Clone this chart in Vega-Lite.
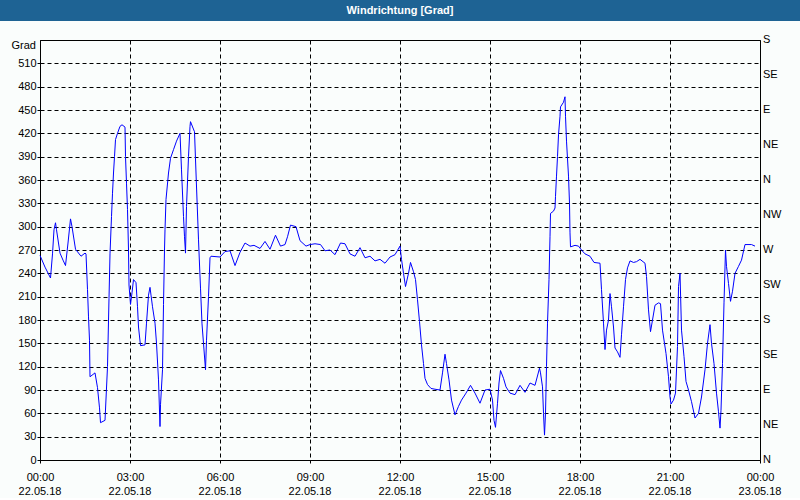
{
 "$schema": "https://vega.github.io/schema/vega-lite/v6.json",
 "padding": 0,
 "background": "#FAFDFC",
 "spacing": 19,
 "bounds": "flush",
 "center": true,
 "config": {"font": "Liberation Sans", "view": {"stroke": "black"}},
 "vconcat": [
  {
   "width": 800, "height": 21,
   "view": {"fill": "#1E6394", "stroke": null},
   "data": {"values": [{"title": "Windrichtung [Grad]"}]},
   "mark": {"type": "text", "color": "white", "fontWeight": "bold", "fontSize": 11, "font": "Liberation Sans"},
   "encoding": {"text": {"field": "title", "type": "nominal"}}
  },
  {
   "width": 720, "height": 420,
   "data": {"values": [
    {"t":"2018-05-22T00:00","v":263},{"t":"2018-05-22T00:10","v":248},{"t":"2018-05-22T00:21","v":234},{"t":"2018-05-22T00:25","v":265},{"t":"2018-05-22T00:28","v":296},{"t":"2018-05-22T00:31","v":305},{"t":"2018-05-22T00:33","v":296},{"t":"2018-05-22T00:40","v":266},{"t":"2018-05-22T00:46","v":257},{"t":"2018-05-22T00:51","v":250},{"t":"2018-05-22T00:56","v":279},
    {"t":"2018-05-22T01:01","v":310},{"t":"2018-05-22T01:04","v":300},{"t":"2018-05-22T01:11","v":271},{"t":"2018-05-22T01:22","v":262},{"t":"2018-05-22T01:30","v":266},{"t":"2018-05-22T01:32","v":265},{"t":"2018-05-22T01:35","v":219},{"t":"2018-05-22T01:37","v":184},{"t":"2018-05-22T01:39","v":154},{"t":"2018-05-22T01:40","v":107},{"t":"2018-05-22T01:50","v":112},{"t":"2018-05-22T01:55","v":93},{"t":"2018-05-22T01:59","v":67},
    {"t":"2018-05-22T02:01","v":48},{"t":"2018-05-22T02:10","v":51},{"t":"2018-05-22T02:15","v":120},{"t":"2018-05-22T02:18","v":208},{"t":"2018-05-22T02:20","v":265},{"t":"2018-05-22T02:23","v":313},{"t":"2018-05-22T02:25","v":343},{"t":"2018-05-22T02:27","v":369},{"t":"2018-05-22T02:29","v":390},{"t":"2018-05-22T02:31","v":412},{"t":"2018-05-22T02:35","v":420},{"t":"2018-05-22T02:40","v":429},{"t":"2018-05-22T02:44","v":431},{"t":"2018-05-22T02:50","v":428},{"t":"2018-05-22T02:51","v":390},{"t":"2018-05-22T02:53","v":356},{"t":"2018-05-22T02:55","v":322},{"t":"2018-05-22T02:57","v":270},{"t":"2018-05-22T02:58","v":225},
    {"t":"2018-05-22T03:01","v":200},{"t":"2018-05-22T03:04","v":215},{"t":"2018-05-22T03:07","v":232},{"t":"2018-05-22T03:12","v":228},{"t":"2018-05-22T03:15","v":197},{"t":"2018-05-22T03:17","v":171},{"t":"2018-05-22T03:21","v":147},{"t":"2018-05-22T03:30","v":148},{"t":"2018-05-22T03:33","v":176},{"t":"2018-05-22T03:37","v":212},{"t":"2018-05-22T03:40","v":222},{"t":"2018-05-22T03:42","v":212},{"t":"2018-05-22T03:45","v":197},{"t":"2018-05-22T03:50","v":176},{"t":"2018-05-22T03:53","v":150},{"t":"2018-05-22T03:57","v":103},
    {"t":"2018-05-22T04:00","v":43},{"t":"2018-05-22T04:01","v":71},{"t":"2018-05-22T04:05","v":116},{"t":"2018-05-22T04:07","v":200},{"t":"2018-05-22T04:09","v":270},{"t":"2018-05-22T04:10","v":296},{"t":"2018-05-22T04:12","v":335},{"t":"2018-05-22T04:17","v":369},{"t":"2018-05-22T04:21","v":388},{"t":"2018-05-22T04:27","v":399},{"t":"2018-05-22T04:33","v":410},{"t":"2018-05-22T04:40","v":420},{"t":"2018-05-22T04:43","v":373},{"t":"2018-05-22T04:47","v":313},{"t":"2018-05-22T04:49","v":287},{"t":"2018-05-22T04:51","v":266},{"t":"2018-05-22T04:53","v":326},{"t":"2018-05-22T04:57","v":390},
    {"t":"2018-05-22T05:00","v":429},{"t":"2018-05-22T05:01","v":435},{"t":"2018-05-22T05:09","v":422},{"t":"2018-05-22T05:12","v":369},{"t":"2018-05-22T05:17","v":283},{"t":"2018-05-22T05:21","v":221},{"t":"2018-05-22T05:24","v":175},{"t":"2018-05-22T05:27","v":150},{"t":"2018-05-22T05:31","v":116},{"t":"2018-05-22T05:33","v":154},{"t":"2018-05-22T05:37","v":210},{"t":"2018-05-22T05:40","v":260},{"t":"2018-05-22T05:42","v":262},
    {"t":"2018-05-22T06:00","v":261},{"t":"2018-05-22T06:10","v":268},{"t":"2018-05-22T06:20","v":269},{"t":"2018-05-22T06:30","v":250},{"t":"2018-05-22T06:40","v":267},{"t":"2018-05-22T06:50","v":279},{"t":"2018-05-22T07:00","v":275},{"t":"2018-05-22T07:08","v":276},{"t":"2018-05-22T07:20","v":272},{"t":"2018-05-22T07:30","v":281},{"t":"2018-05-22T07:40","v":271},{"t":"2018-05-22T07:51","v":289},
    {"t":"2018-05-22T08:01","v":275},{"t":"2018-05-22T08:10","v":277},{"t":"2018-05-22T08:15","v":287},{"t":"2018-05-22T08:21","v":302},{"t":"2018-05-22T08:32","v":300},{"t":"2018-05-22T08:40","v":282},{"t":"2018-05-22T08:52","v":275},{"t":"2018-05-22T09:00","v":277},{"t":"2018-05-22T09:10","v":278},{"t":"2018-05-22T09:21","v":277},{"t":"2018-05-22T09:30","v":269},{"t":"2018-05-22T09:40","v":270},{"t":"2018-05-22T09:50","v":264},
    {"t":"2018-05-22T10:01","v":279},{"t":"2018-05-22T10:10","v":278},{"t":"2018-05-22T10:20","v":265},{"t":"2018-05-22T10:30","v":262},{"t":"2018-05-22T10:40","v":273},{"t":"2018-05-22T10:50","v":260},{"t":"2018-05-22T11:00","v":262},{"t":"2018-05-22T11:10","v":256},{"t":"2018-05-22T11:20","v":258},{"t":"2018-05-22T11:30","v":253},{"t":"2018-05-22T11:40","v":261},{"t":"2018-05-22T11:50","v":264},
    {"t":"2018-05-22T12:00","v":275},{"t":"2018-05-22T12:03","v":258},{"t":"2018-05-22T12:07","v":240},{"t":"2018-05-22T12:11","v":223},{"t":"2018-05-22T12:17","v":240},{"t":"2018-05-22T12:21","v":254},{"t":"2018-05-22T12:27","v":242},{"t":"2018-05-22T12:31","v":232},{"t":"2018-05-22T12:35","v":206},{"t":"2018-05-22T12:39","v":178},{"t":"2018-05-22T12:43","v":148},{"t":"2018-05-22T12:47","v":124},{"t":"2018-05-22T12:50","v":105},{"t":"2018-05-22T12:55","v":97},
    {"t":"2018-05-22T13:02","v":92},{"t":"2018-05-22T13:10","v":91},{"t":"2018-05-22T13:20","v":90},{"t":"2018-05-22T13:25","v":112},{"t":"2018-05-22T13:30","v":136},{"t":"2018-05-22T13:33","v":124},{"t":"2018-05-22T13:38","v":103},{"t":"2018-05-22T13:43","v":77},{"t":"2018-05-22T13:50","v":58},{"t":"2018-05-22T13:57","v":69},
    {"t":"2018-05-22T14:03","v":77},{"t":"2018-05-22T14:12","v":86},{"t":"2018-05-22T14:21","v":96},{"t":"2018-05-22T14:30","v":86},{"t":"2018-05-22T14:40","v":73},{"t":"2018-05-22T14:50","v":90},{"t":"2018-05-22T15:00","v":91},{"t":"2018-05-22T15:05","v":77},{"t":"2018-05-22T15:08","v":51},{"t":"2018-05-22T15:11","v":42},{"t":"2018-05-22T15:15","v":73},{"t":"2018-05-22T15:18","v":99},{"t":"2018-05-22T15:21","v":115},{"t":"2018-05-22T15:27","v":105},{"t":"2018-05-22T15:32","v":94},{"t":"2018-05-22T15:40","v":86},{"t":"2018-05-22T15:50","v":84},
    {"t":"2018-05-22T16:00","v":96},{"t":"2018-05-22T16:10","v":87},{"t":"2018-05-22T16:20","v":99},{"t":"2018-05-22T16:30","v":96},{"t":"2018-05-22T16:39","v":118},{"t":"2018-05-22T16:41","v":112},{"t":"2018-05-22T16:45","v":94},{"t":"2018-05-22T16:47","v":60},{"t":"2018-05-22T16:49","v":32},{"t":"2018-05-22T16:51","v":60},{"t":"2018-05-22T16:53","v":120},{"t":"2018-05-22T16:55","v":176},{"t":"2018-05-22T16:58","v":232},
    {"t":"2018-05-22T17:00","v":287},{"t":"2018-05-22T17:01","v":317},{"t":"2018-05-22T17:07","v":320},{"t":"2018-05-22T17:10","v":324},{"t":"2018-05-22T17:11","v":339},{"t":"2018-05-22T17:13","v":365},{"t":"2018-05-22T17:15","v":390},{"t":"2018-05-22T17:17","v":418},{"t":"2018-05-22T17:20","v":442},{"t":"2018-05-22T17:21","v":454},{"t":"2018-05-22T17:27","v":460},{"t":"2018-05-22T17:30","v":467},{"t":"2018-05-22T17:31","v":442},{"t":"2018-05-22T17:33","v":410},{"t":"2018-05-22T17:37","v":365},{"t":"2018-05-22T17:39","v":330},{"t":"2018-05-22T17:40","v":292},{"t":"2018-05-22T17:41","v":274},{"t":"2018-05-22T17:50","v":276},{"t":"2018-05-22T17:57","v":275},
    {"t":"2018-05-22T18:03","v":270},{"t":"2018-05-22T18:10","v":265},{"t":"2018-05-22T18:20","v":262},{"t":"2018-05-22T18:28","v":254},{"t":"2018-05-22T18:40","v":253},{"t":"2018-05-22T18:43","v":219},{"t":"2018-05-22T18:47","v":176},{"t":"2018-05-22T18:50","v":142},{"t":"2018-05-22T18:53","v":167},{"t":"2018-05-22T18:57","v":180},
    {"t":"2018-05-22T19:00","v":214},{"t":"2018-05-22T19:03","v":197},{"t":"2018-05-22T19:07","v":171},{"t":"2018-05-22T19:10","v":144},{"t":"2018-05-22T19:15","v":139},{"t":"2018-05-22T19:20","v":132},{"t":"2018-05-22T19:23","v":161},{"t":"2018-05-22T19:27","v":197},{"t":"2018-05-22T19:31","v":232},{"t":"2018-05-22T19:35","v":247},{"t":"2018-05-22T19:40","v":256},{"t":"2018-05-22T19:47","v":254},{"t":"2018-05-22T19:53","v":255},
    {"t":"2018-05-22T20:00","v":258},{"t":"2018-05-22T20:10","v":253},{"t":"2018-05-22T20:13","v":236},{"t":"2018-05-22T20:17","v":193},{"t":"2018-05-22T20:21","v":165},{"t":"2018-05-22T20:25","v":180},{"t":"2018-05-22T20:30","v":199},{"t":"2018-05-22T20:37","v":202},{"t":"2018-05-22T20:41","v":201},{"t":"2018-05-22T20:45","v":167},{"t":"2018-05-22T20:52","v":137},{"t":"2018-05-22T20:57","v":107},
    {"t":"2018-05-22T21:00","v":81},{"t":"2018-05-22T21:02","v":72},{"t":"2018-05-22T21:07","v":77},{"t":"2018-05-22T21:11","v":86},{"t":"2018-05-22T21:15","v":146},{"t":"2018-05-22T21:17","v":223},{"t":"2018-05-22T21:20","v":240},{"t":"2018-05-22T21:23","v":167},{"t":"2018-05-22T21:28","v":133},{"t":"2018-05-22T21:32","v":101},{"t":"2018-05-22T21:37","v":90},{"t":"2018-05-22T21:43","v":75},{"t":"2018-05-22T21:50","v":54},{"t":"2018-05-22T21:57","v":60},
    {"t":"2018-05-22T22:03","v":81},{"t":"2018-05-22T22:10","v":116},{"t":"2018-05-22T22:15","v":150},{"t":"2018-05-22T22:20","v":174},{"t":"2018-05-22T22:23","v":150},{"t":"2018-05-22T22:28","v":124},{"t":"2018-05-22T22:33","v":86},{"t":"2018-05-22T22:37","v":62},{"t":"2018-05-22T22:40","v":41},{"t":"2018-05-22T22:42","v":64},{"t":"2018-05-22T22:45","v":124},{"t":"2018-05-22T22:48","v":202},{"t":"2018-05-22T22:51","v":270},{"t":"2018-05-22T22:53","v":249},{"t":"2018-05-22T22:57","v":227},
    {"t":"2018-05-22T23:01","v":204},{"t":"2018-05-22T23:05","v":217},{"t":"2018-05-22T23:10","v":240},{"t":"2018-05-22T23:17","v":249},{"t":"2018-05-22T23:23","v":257},{"t":"2018-05-22T23:30","v":277},{"t":"2018-05-22T23:43","v":277},{"t":"2018-05-22T23:50","v":275}
   ]},
   "encoding": {
    "x": {
     "field": "t", "type": "temporal",
     "scale": {"domain": [{"year": 2018, "month": 5, "date": 22, "hours": 0}, {"year": 2018, "month": 5, "date": 23, "hours": 0}], "nice": false},
     "axis": {
      "title": null, "tickCount": 8, "format": "%H:%M",
      "grid": true, "gridColor": "black", "gridDash": [4, 3], "gridOpacity": 1,
      "domainColor": "black", "tickColor": "black", "tickSize": 3,
      "labelFont": "Liberation Sans", "labelFontSize": 11, "labelColor": "black",
      "labelPadding": 8, "labelFlush": false
     }
    },
    "y": {
     "field": "v", "type": "quantitative",
     "scale": {"domain": [0, 540], "nice": false},
     "axis": {
      "title": null,
      "values": [0, 30, 60, 90, 120, 150, 180, 210, 240, 270, 300, 330, 360, 390, 420, 450, 480, 510],
      "grid": true, "gridColor": "black", "gridDash": [4, 3], "gridOpacity": 1,
      "domainColor": "black", "tickColor": "black", "tickSize": 3,
      "labelPadding": 1, "labelFont": "Liberation Sans", "labelFontSize": 11, "labelColor": "black"
     }
    }
   },
   "layer": [
    {
     "mark": {"type": "line", "color": "#0000FF", "strokeWidth": 1},
     "encoding": {}
    },
    {
     "data": {"values": [
      {"t":"2018-05-23T00:00","v":0,"lab":"N"},{"t":"2018-05-23T00:00","v":45,"lab":"NE"},{"t":"2018-05-23T00:00","v":90,"lab":"E"},{"t":"2018-05-23T00:00","v":135,"lab":"SE"},{"t":"2018-05-23T00:00","v":180,"lab":"S"},{"t":"2018-05-23T00:00","v":225,"lab":"SW"},{"t":"2018-05-23T00:00","v":270,"lab":"W"},{"t":"2018-05-23T00:00","v":315,"lab":"NW"},{"t":"2018-05-23T00:00","v":360,"lab":"N"},{"t":"2018-05-23T00:00","v":405,"lab":"NE"},{"t":"2018-05-23T00:00","v":450,"lab":"E"},{"t":"2018-05-23T00:00","v":495,"lab":"SE"},{"t":"2018-05-23T00:00","v":540,"lab":"S"}
     ]},
     "mark": {"type": "text", "align": "left", "baseline": "middle", "dx": 3, "fontSize": 11, "font": "Liberation Sans", "color": "black"},
     "encoding": {"text": {"field": "lab", "type": "nominal"}}
    },
    {
     "data": {"values": [
      {"t":"2018-05-22T00:00","v":0,"lab":"22.05.18"},{"t":"2018-05-22T03:00","v":0,"lab":"22.05.18"},{"t":"2018-05-22T06:00","v":0,"lab":"22.05.18"},{"t":"2018-05-22T09:00","v":0,"lab":"22.05.18"},{"t":"2018-05-22T12:00","v":0,"lab":"22.05.18"},{"t":"2018-05-22T15:00","v":0,"lab":"22.05.18"},{"t":"2018-05-22T18:00","v":0,"lab":"22.05.18"},{"t":"2018-05-22T21:00","v":0,"lab":"22.05.18"},{"t":"2018-05-23T00:00","v":0,"lab":"23.05.18"}
     ]},
     "mark": {"type": "text", "align": "center", "baseline": "top", "dy": 26, "fontSize": 11, "font": "Liberation Sans", "color": "black"},
     "encoding": {"text": {"field": "lab", "type": "nominal"}}
    },
    {
     "data": {"values": [{"t":"2018-05-22T00:00","v":540,"lab":"Grad"}]},
     "mark": {"type": "text", "align": "right", "baseline": "middle", "dx": -4, "dy": 6, "fontSize": 11, "font": "Liberation Sans", "color": "black"},
     "encoding": {"text": {"field": "lab", "type": "nominal"}}
    }
   ]
  }
 ]
}
